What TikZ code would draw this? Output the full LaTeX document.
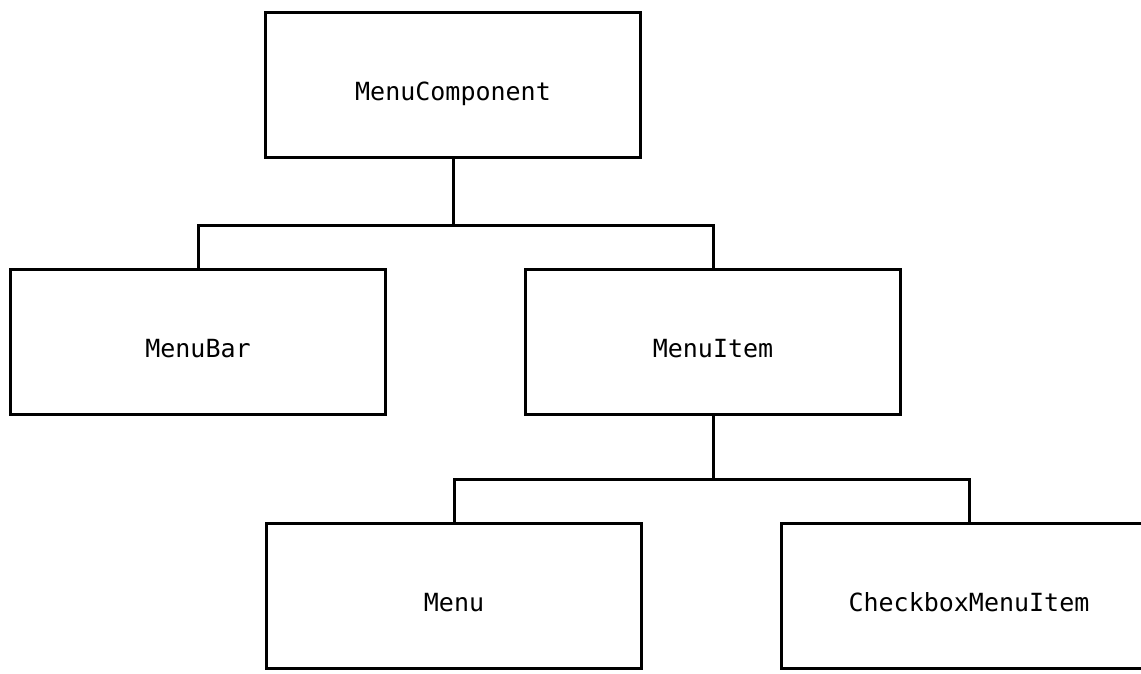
\documentclass[tikz,border=0pt]{standalone}
\usepackage{fontspec}
\newfontfamily\classfont{DejaVu Sans Mono}
\usetikzlibrary{positioning}

\tikzset{
  class/.style={draw, line width=3pt, minimum width=375pt, minimum height=145pt,
    inner sep=0pt, font=\classfont\fontsize{25}{30}\selectfont,
    text height=30pt, text depth=0pt},
  link/.style={line width=3pt}
}

\begin{document}
\begin{tikzpicture}[x=1pt, y=1pt]
      \useasboundingbox (0,0) rectangle (1141,-673);
      \clip (0,0) rectangle (1141,-673);
      % Define nodes
      \node[class] (comp) at (453,-85) {MenuComponent};
      \node[class, below=109pt of comp, xshift=260pt] (item) {MenuItem};
      \node[class, left=137pt of item] (bar) {MenuBar};
      \node[class, below=106pt of item, xshift=-259pt] (menu) {Menu};
      \node[class, right=137pt of menu] (check) {CheckboxMenuItem};
      % Connect nodes
      \draw[link] (comp.south) -- ++(0,-66) coordinate (fork1);
      \draw[link] (bar.north) |- (fork1) -| (item.north);
      \draw[link] (item.south) -- ++(0,-63) coordinate (fork2);
      \draw[link] (menu.north) |- (fork2) -| (check.north);
    \end{tikzpicture}
\end{document}
